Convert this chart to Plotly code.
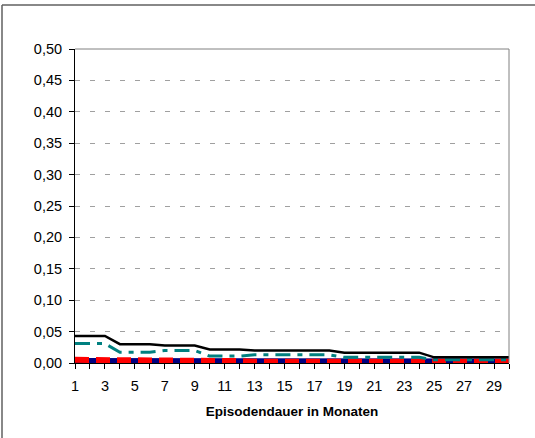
import plotly.graph_objects as go

months = list(range(1, 31))
black_vals = [0.043]*3 + [0.030]*3 + [0.028]*3 + [0.0215]*3 + [0.020]*6 + [0.0165]*6 + [0.009]*6
teal_vals = [0.031]*3 + [0.017]*3 + [0.020]*3 + [0.011]*3 + [0.013]*6 + [0.009]*6 + [0.005]*6
navy_vals = [0.004]*12 + [0.003]*18
red_vals = [0.005]*6 + [0.003]*6 + [0.002]*18

y_ticks = [0.0, 0.05, 0.10, 0.15, 0.20, 0.25, 0.30, 0.35, 0.40, 0.45, 0.50]
x_ticks = list(range(1, 30, 2))

fig = go.Figure()
fig.add_trace(go.Scatter(x=months, y=navy_vals, mode="lines",
                         line=dict(color="#000080", width=5)))
fig.add_trace(go.Scatter(x=months, y=red_vals, mode="lines",
                         line=dict(color="#FF0000", width=6, dash="14px,7px")))
fig.add_trace(go.Scatter(x=months, y=teal_vals, mode="lines",
                         line=dict(color="#008080", width=3, dash="15px,7px,5px,7px")))
fig.add_trace(go.Scatter(x=months, y=black_vals, mode="lines",
                         line=dict(color="#000000", width=2.5)))

fig.update_layout(
    width=535, height=438,
    margin=dict(l=75, r=26, t=49, b=75),
    paper_bgcolor="white", plot_bgcolor="white",
    showlegend=False,
    separators=",.",
    font=dict(family="Liberation Sans, Arial", size=14, color="black"),
    xaxis=dict(range=[1, 30], tickmode="array", tickvals=months,
               ticktext=[str(m) if m in x_ticks else "" for m in months],
               showgrid=False, zeroline=False,
               showline=True, linecolor="black", linewidth=1,
               ticks="outside", ticklen=5, tickcolor="black",
               ticklabelstandoff=5,
               tickfont=dict(size=14.5),
               title=dict(text="<b>Episodendauer in Monaten</b>", font=dict(size=13.5), standoff=13)),
    yaxis=dict(range=[0, 0.5], tickvals=y_ticks, tickformat=".2f",
               showgrid=True, gridcolor="#A0A0A0", griddash="5px,10px", gridwidth=1,
               zeroline=False,
               showline=True, linecolor="black", linewidth=1,
               ticks="outside", ticklen=5, tickcolor="black",
               ticklabelstandoff=4,
               tickfont=dict(size=14.5)),
    shapes=[
        dict(type="line", xref="paper", yref="paper", x0=0, x1=1, y0=1, y1=1,
             line=dict(color="#808080", width=1)),
        dict(type="line", xref="paper", yref="paper", x0=1, x1=1, y0=0, y1=1,
             line=dict(color="#808080", width=1)),
        dict(type="line", xref="paper", yref="paper", x0=-73/434, x1=533/434,
             y0=1 + 44/314, y1=1 + 44/314, line=dict(color="#606060", width=1.5)),
        dict(type="line", xref="paper", yref="paper", x0=-73/434, x1=-73/434,
             y0=-75/314, y1=1 + 44/314, line=dict(color="#606060", width=1.5)),
    ],
)

fig.write_html("out.html", config={"displayModeBar": False},
               post_script="document.body.style.margin='0';")
